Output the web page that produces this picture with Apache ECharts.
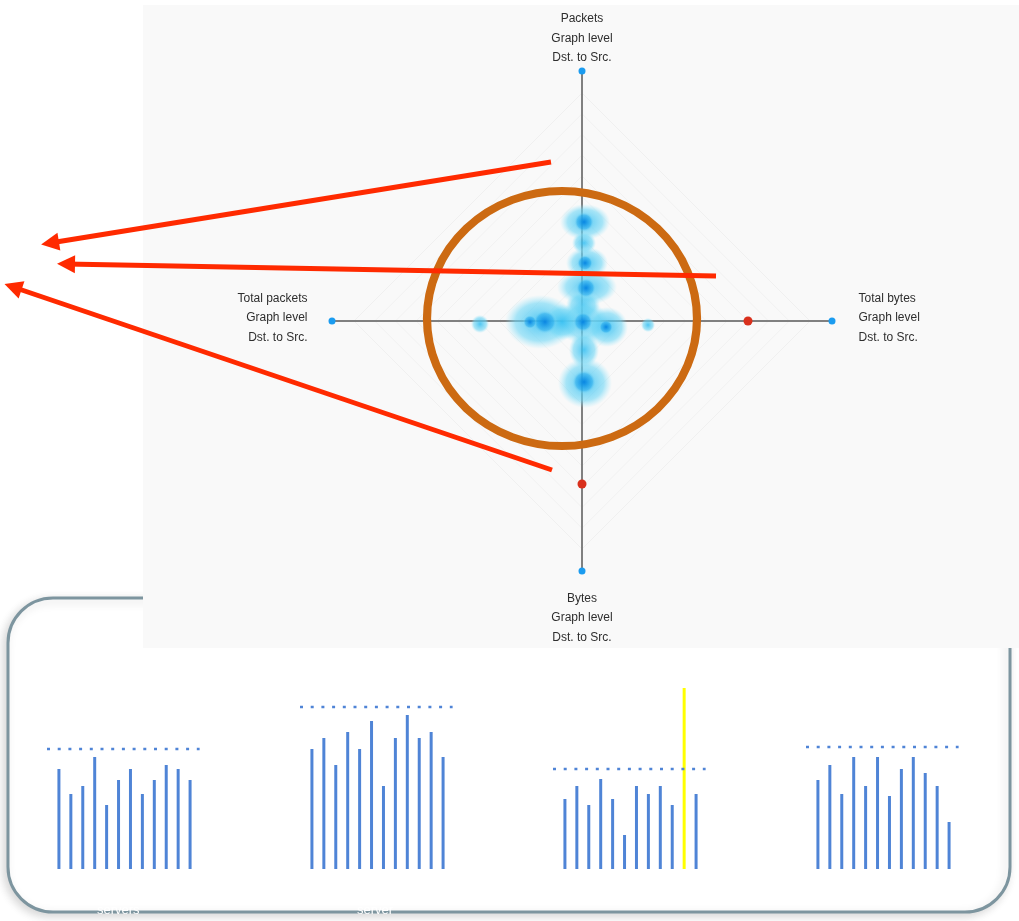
<!DOCTYPE html>
<html>
<head>
<meta charset="utf-8">
<title>Traffic radar and server bars</title>
<script src="https://cdn.jsdelivr.net/npm/echarts@6/dist/echarts.min.js"></script>
<style>
  html, body { margin: 0; padding: 0; background: #fff; }
  #chart { width: 1019px; height: 921px; }
</style>
</head>
<body>
<div id="chart"></div>
<script>
// radar axis ends (radar units, -250..250) and their names
var axisEnds = [[0, 250], [250, 0], [0, -250], [-250, 0]];
var axisNames = ['Packets', 'Total bytes', 'Bytes', 'Total packets'];
var axisSub = ['Graph level', 'Dst. to Src.'];
var labelSides = ['top', 'right', 'bottom', 'left'];
var redMarks = [[166, 0], [0, -163]];

// heat blobs: [x, y, width, height]
var blobHalo = [
  [3, 99, 50, 36], [2, 78, 24, 22], [5, 58, 42, 32], [5, 34, 60, 36],
  [1, 16, 34, 28], [1, -1, 50, 44], [-42, -1, 70, 54], [-20, -1, 40, 36],
  [25, -6, 42, 40], [2, -29, 30, 36], [3, -62, 54, 50],
  [66, -4, 14, 14], [-102, -3, 18, 18]
];
// dark cores: [x, y, size]
var blobCore = [
  [2, 99, 20], [3, 58, 16], [4, 33, 20], [1, -1, 20],
  [-37, -1, 24], [-52, -1, 14], [24, -6, 14], [2, -61, 24]
];

// annotations drawn in radar units
var ring = [[-20, 2.5]];
var arrows = [
  [[-31, 159], [-532, 78]],
  [[134, 45], [-516, 57]],
  [[-30, -149], [-569, 34]]
];

// bottom bar groups (12 bars each) and their dotted reference levels
var barsA = [100, 75, 83, 112, 64, 89, 100, 75, 89, 104, 100, 89];
var barsB = [120, 131, 104, 137, 120, 148, 83, 131, 154, 131, 137, 112];
var barsC = [70, 83, 64, 90, 70, 34, 83, 75, 83, 64, 181, 75];
var barsD = [89, 104, 75, 112, 83, 112, 73, 100, 112, 96, 83, 47];
var barGroups = [barsA, barsB, barsC, barsD];
var thresholds = [120, 162, 100, 122];
var highlight = { group: 2, index: 10 };
var groupLeft = [47, 300, 553, 806];

var chart = echarts.init(document.getElementById('chart'));

var grids = [], xAxes = [], yAxes = [], series = [];
var hidden = { show: false };

function glow(inner, outer) {
  return {
    type: 'radial', x: 0.5, y: 0.5, r: 0.5,
    colorStops: [{ offset: 0, color: inner }, { offset: 0.7, color: outer }, { offset: 1, color: 'rgba(150,228,250,0)' }]
  };
}

barGroups.forEach(function (vals, g) {
  grids.push({ left: groupLeft[g], top: 669, width: 155, height: 200 });
  xAxes.push({ gridIndex: g, type: 'value', min: 0, max: 13, show: false });
  yAxes.push({ gridIndex: g, type: 'value', min: 0, max: 200, show: false });
  series.push({
    type: 'line', xAxisIndex: g, yAxisIndex: g, silent: true, symbol: 'none',
    data: [[0, thresholds[g]], [12.8, thresholds[g]]],
    lineStyle: { color: '#4f84d6', width: 2.5, type: [3, 7.7] }
  });
  series.push({
    type: 'bar', xAxisIndex: g, yAxisIndex: g, barWidth: 3,
    itemStyle: { color: '#4f84d6' },
    data: vals.map(function (v, k) {
      if (g === highlight.group && k === highlight.index) {
        return { value: [k + 1, v], itemStyle: { color: '#ffff00' } };
      }
      return [k + 1, v];
    })
  });
});

// radar panel grid (index 4)
grids.push({ left: 332, top: 71, width: 500, height: 500 });
var crossAxis = {
  gridIndex: 4, type: 'value', min: -250, max: 250,
  axisLine: { onZero: true, lineStyle: { color: '#808080', width: 2 } },
  axisTick: hidden, axisLabel: hidden, splitLine: hidden
};
xAxes.push(crossAxis);
yAxes.push(Object.assign({}, crossAxis));

series.push({
  type: 'scatter', xAxisIndex: 4, yAxisIndex: 4, clip: false, silent: true,
  symbol: 'rect',
  symbolSize: function (d) { return [d[2], d[3]]; },
  itemStyle: { opacity: 1, color: glow('rgba(50,190,242,0.85)', 'rgba(110,214,245,0.6)') },
  data: blobHalo
});
series.push({
  type: 'scatter', xAxisIndex: 4, yAxisIndex: 4, clip: false, silent: true,
  symbol: 'rect',
  symbolSize: function (d) { return d[2]; },
  itemStyle: { opacity: 1, color: glow('rgba(5,130,225,0.95)', 'rgba(30,165,235,0.5)') },
  data: blobCore
});

series.push({
  type: 'scatter', xAxisIndex: 4, yAxisIndex: 4, clip: false, z: 4,
  symbolSize: 7,
  itemStyle: { color: '#1b9cf0', opacity: 1 },
  label: {
    show: true, fontSize: 12, lineHeight: 19.5, color: '#2e2e2e',
    fontFamily: 'Liberation Sans, Arial, sans-serif'
  },
  data: axisEnds.map(function (p, i) {
    var side = labelSides[i];
    var lbl = {
      position: side,
      formatter: [axisNames[i]].concat(axisSub).join('\n')
    };
    if (side === 'top') { lbl.distance = 0; lbl.align = 'center'; }
    if (side === 'bottom') { lbl.distance = 14; lbl.align = 'center'; }
    if (side === 'left') { lbl.distance = 21; lbl.align = 'right'; lbl.offset = [0, -3]; }
    if (side === 'right') { lbl.distance = 23; lbl.align = 'left'; lbl.offset = [0, -3]; }
    return { value: p, label: lbl };
  })
});
series.push({
  type: 'scatter', xAxisIndex: 4, yAxisIndex: 4, clip: false, z: 4,
  symbolSize: 9, itemStyle: { color: '#d9301c', opacity: 1 },
  data: redMarks
});

series.push({
  type: 'scatter', xAxisIndex: 4, yAxisIndex: 4, clip: false, silent: true, z: 5,
  symbol: 'circle', symbolSize: [270, 255],
  itemStyle: { color: 'rgba(0,0,0,0)', borderColor: '#cc6a12', borderWidth: 8, opacity: 1 },
  data: ring
});
series.push({
  type: 'lines', coordinateSystem: 'cartesian2d', xAxisIndex: 4, yAxisIndex: 4,
  clip: false, silent: true, z: 6,
  symbol: ['none', 'triangle'], symbolSize: [16, 18],
  lineStyle: { color: '#ff2a00', width: 5, opacity: 1 },
  data: arrows.map(function (a) { return { coords: a }; })
});

var option = {
  animation: false,
  backgroundColor: '#fff',
  graphic: [
    {
      type: 'rect', z: -20,
      shape: { x: 8, y: 598, width: 1002, height: 314, r: 45 },
      style: {
        fill: '#fff', stroke: '#7d959f', lineWidth: 3,
        shadowBlur: 10, shadowColor: 'rgba(0,0,0,0.15)', shadowOffsetX: -3, shadowOffsetY: 3
      }
    },
    { type: 'rect', z: -10, shape: { x: 143, y: 5, width: 876, height: 643 }, style: { fill: '#f9f9f9' } },
    { type: 'text', z: 50, left: 97, top: 904, style: { text: 'servers', fill: '#fff', font: '13px Liberation Sans, sans-serif' } },
    { type: 'text', z: 50, left: 357, top: 904, style: { text: 'server', fill: '#fff', font: '13px Liberation Sans, sans-serif' } }
  ],
  radar: {
    center: [582, 321], radius: 228, startAngle: 90, shape: 'polygon', splitNumber: 11,
    indicator: axisNames.map(function (n) { return { name: n, max: 1 }; }),
    axisName: hidden, axisLine: hidden, axisTick: hidden, axisLabel: hidden,
    splitArea: hidden,
    splitLine: { lineStyle: { color: 'rgba(0,0,0,0.035)', width: 1 } }
  },
  grid: grids,
  xAxis: xAxes,
  yAxis: yAxes,
  series: series
};

chart.setOption(option);
</script>
</body>
</html>
